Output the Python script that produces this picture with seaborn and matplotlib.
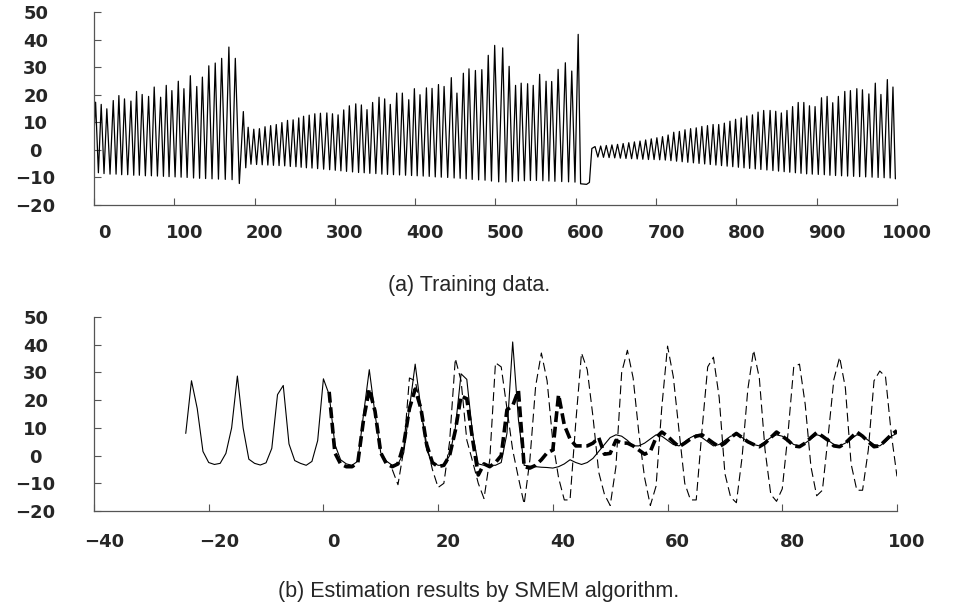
import numpy as np
import pandas as pd
import matplotlib
matplotlib.use("Agg")
import matplotlib.pyplot as plt
import matplotlib.transforms as mtransforms
import seaborn as sns

# (a) Training data -- peak x/y per cycle and the trough that follows each peak
seg1_peak_x = [2, 9, 16, 24, 31, 38, 46, 53, 60, 68, 75, 83, 90, 97, 105, 112, 120, 128, 135, 143, 151, 159, 168, 176]
seg1_peak_y = [17.3, 16.5, 14.9, 17.9, 19.7, 18.5, 17.7, 21.2, 20.1, 19.4, 22.8, 19.1, 23.4, 21.5, 24.9, 22.2,
               26.9, 23.0, 26.4, 30.5, 31.5, 33.2, 37.3, 33.2]
seg1_trough_y = [-8.3, -8.6, -8.8, -8.8, -9.0, -9.0, -9.2, -9.2, -9.4, -9.4, -9.5, -9.6, -9.7, -9.8, -9.9, -10.0,
                 -10.2, -10.3, -10.4, -10.5, -10.6, -10.7, -10.8, -12.2]

seg2_peak_x = [186, 192, 199, 206, 213, 220, 227, 234, 241, 248, 255, 261, 268, 275, 282, 290, 297, 304, 311, 318,
               326, 333, 340, 347, 355, 362, 369, 377, 384, 392, 399, 406, 414, 421, 429, 436, 445, 452, 460, 467,
               475, 483, 491, 499, 509, 517, 525, 532, 540, 547, 555, 563, 570, 578, 587, 595, 603]
seg2_peak_y = [13.9, 8.2, 7.5, 7.7, 8.4, 8.8, 9.2, 9.9, 10.7, 10.9, 11.6, 12.2, 12.6, 13.1, 13.3, 13.4, 13.1, 12.7,
               14.5, 16.0, 16.7, 16.3, 14.6, 17.2, 19.1, 18.5, 16.5, 20.6, 20.6, 18.2, 22.2, 20.0, 22.5, 22.3, 23.7,
               23.0, 26.2, 20.6, 27.8, 29.4, 28.8, 29.1, 34.3, 37.9, 37.0, 30.3, 23.4, 24.2, 24.0, 23.4, 27.4, 24.9,
               24.8, 29.2, 31.6, 28.6, 41.9]
seg2_trough_y = [-6.5, -5.2, -5.3, -5.4, -5.5, -5.6, -5.7, -5.8, -6.0, -6.1,
                 -6.3, -6.5, -6.6, -6.8, -7.0, -7.2, -7.4, -7.6, -7.8, -8.0,
                 -8.2, -8.3, -8.5, -8.6, -8.8, -8.9, -9.0, -9.1, -9.2, -9.3,
                 -9.4, -9.5, -9.6, -9.8, -9.9, -10.0, -10.2, -10.3, -10.5, -10.7,
                 -10.9, -11.0, -11.3, -11.6, -11.7, -11.5, -11.3, -11.2, -11.1, -11.1,
                 -11.2, -11.3, -11.4, -11.5, -11.6, -11.7, -12.5]

seg3_peak_x = [624, 631, 638, 645, 652, 659, 666, 673, 680, 687, 694, 701, 708, 715, 722, 729, 736, 743, 750, 757,
               764, 771, 778, 785, 792, 799, 806, 813, 820, 827, 834, 842, 849, 856, 863, 870, 877, 884, 891, 898,
               906, 913, 920, 927, 935, 942, 950, 957, 965, 973, 980, 988, 995]
seg3_peak_y = [1.2, 1.4, 1.6, 1.8, 2.0, 2.3, 2.6, 2.9, 3.2, 3.6, 4.0, 4.4,
               4.8, 5.4, 6.4, 6.7, 7.3, 7.7, 8.0, 8.5, 8.8, 9.2, 9.2, 9.7, 10.4, 11.1, 11.6, 12.3, 12.7, 13.7,
               14.3, 14.3, 14.0, 13.4, 14.3, 15.7, 17.2, 17.2, 16.0, 15.7, 18.9, 19.4, 17.1, 19.4, 21.2, 21.5,
               22.2, 21.8, 20.3, 24.2, 20.1, 25.5, 22.8]
seg3_trough_y = [-2.6, -2.7, -2.8, -2.9, -3.0, -3.1, -3.2, -3.3, -3.4, -3.5, -3.5, -3.6,
                 -3.7, -3.9, -4.1, -4.3, -4.5, -4.7, -4.9, -5.1, -5.3, -5.5, -5.7, -5.9, -6.1, -6.3,
                 -6.5, -6.7, -6.9, -7.1, -7.3, -7.5, -7.7, -7.9, -8.1, -8.3, -8.5, -8.7, -8.8, -8.9,
                 -9.0, -9.2, -9.3, -9.4, -9.5, -9.6, -9.7, -9.8, -9.9, -10.0, -10.1, -10.2, -10.5]

train_start = (0, 5.8)
train_end_x = 998
# the long flat dip between the 2nd and 3rd regimes
gap_t = [606, 617, 620]
gap_v = [-12.3, -11.8, 0.5]

# (b) Estimation results -- values at integer steps
true_x0 = -24
true_y = [8, 27, 17, 1.5, -2.5, -3.2, -2.8, 0.8, 10, 28.7, 10, -1.3, -2.8, -3.4, -2.6, 2.6, 22, 25.3, 4.2, -1.8,
          -2.8, -3.5, -2.1, 5.4,
          27.7, 22, 4, -1.5, -3, -3.5, -2, 15, 31, 15, 1, -2, -3.5, -3, 1, 17, 33, 17, 2, -2.5, -3.5, -3.5, 0, 10,
          29.5, 27.5, 8, -3, -3.5, -3.5, -3.5, -2.5, 8, 41, 13, -3.5, -3.8, -4, -4.2, -4.3, -4.5, -4, -3, -1.5,
          -2.5, -3.2, -2.5, -1, 1.5, 4, 6.5, 7.5,
          7, 5.5, 3.5, 3.5, 4.5, 6, 7.5, 7, 5.5, 4, 3.5, 5, 6.5, 7.5, 6.5, 5, 3.5, 4, 5.5, 7, 7.5, 6.5, 5, 4, 3.5,
          5, 6.5, 7.5, 7, 5.5, 4, 3.5, 4.5, 6, 7.5, 7, 5.5, 4, 3.5, 4.5, 6, 7.5, 7, 5.5, 4, 3.5, 5, 7, 8]

smem_x0 = 1
smem_y = [23, 1, -3, -4, -4, -2.5, 13, 24, 16, 1, -3, -4, -3, 4, 17, 24, 17, 4, -2.5, -4, -3.5, 0, 9, 21.5, 20.5,
          6, -7, -3, -4, -2.5, 0, 16.5, 18, 23.5, -4, -4.5, -3.5, -1.5, 1, 2, 22, 11, 6, 3.5, 3.5, 3.5, 4.5, 6.5,
          0.5, 0.8, 5.5, 4.5, 4.5, 3.5, 2, 0.5, 1.5, 6.5, 8.5, 7, 5, 3.2, 4.5, 6, 7, 7.5, 6, 4.5, 3.2, 4.5, 6.5,
          8, 6.5, 5, 4, 3.2, 4.5, 6.5, 8.5, 7, 5.5, 3.5, 3.2, 4.5, 6.5, 8.3, 7, 5.5, 3.5, 3.2, 4.5, 6.5, 8.5, 7,
          5, 3.2, 3.5, 5.5, 7.5, 9]

other_x0 = 12
other_y = [-5, -10.5, 2, 28, 27, 17, 4, -5, -11.5, -10, 5, 35, 27, 5.6, -2, -10, -15.5, -1.5, 33.5, 32, 17, 2, -8,
           -17.5, -1.5, 25, 37, 27, 5, -8, -16, -16, 12, 37, 31, 14, -6, -14, -18, -4, 30, 38, 28, 8, -8, -18, -11,
           17.5, 39.5, 28.5, 9, -10, -16, -16, 9, 32, 35.5, 21, -6.5, -15, -17, -0.5, 24, 38, 28, 2, -14, -16.5,
           -12, 8, 32, 33, 18.5, -4, -14.5, -12.5, 7, 27.5, 35.5, 24.5, -3, -12.5, -12.5, 2, 27, 30.5, 28.5, 8,
           -7.5]

# assemble the training series as peak / trough pairs
peak_x = seg1_peak_x + seg2_peak_x + seg3_peak_x
peak_y = seg1_peak_y + seg2_peak_y + seg3_peak_y
trough_y = seg1_trough_y + seg2_trough_y + seg3_trough_y
assert len(peak_x) == len(peak_y) == len(trough_y)
trough_x = [(a + b) / 2 for a, b in zip(peak_x[:-1], peak_x[1:])] + [train_end_x]
tx, ty = [train_start[0]] + gap_t, [train_start[1]] + gap_v
for a, b, c, d in zip(peak_x, peak_y, trough_x, trough_y):
    tx += [a, c]
    ty += [b, d]
train = pd.DataFrame({"t": tx, "v": ty}).sort_values("t")

true_df = pd.DataFrame({"t": np.arange(true_x0, true_x0 + len(true_y)), "v": true_y})
smem_df = pd.DataFrame({"t": np.arange(smem_x0, smem_x0 + len(smem_y)), "v": smem_y})
other_df = pd.DataFrame({"t": np.arange(other_x0, other_x0 + len(other_y)), "v": other_y})

sns.set_style("ticks")
plt.rcParams['font.family'] = ['DejaVu Sans']

fig = plt.figure(figsize=(9.58, 6.08), dpi=100)
ax1 = fig.add_axes([0.0981, 0.6628, 0.8382, 0.3174])
ax2 = fig.add_axes([0.0981, 0.1595, 0.8382, 0.3191])

sns.lineplot(data=train, x="t", y="v", ax=ax1, color="black", lw=0.9, estimator=None, sort=False)

sns.lineplot(data=true_df, x="t", y="v", ax=ax2, color="black", lw=0.8, estimator=None, sort=False)
sns.lineplot(data=other_df, x="t", y="v", ax=ax2, color="black", lw=0.8, estimator=None, sort=False,
             linestyle=(0, (8, 4)))
sns.lineplot(data=smem_df, x="t", y="v", ax=ax2, color="black", lw=2.6, estimator=None, sort=False,
             linestyle=(0, (3, 1.3)))


def style_axis(ax, xlim, xticks, xpad):
    ax.set_xlim(*xlim)
    ax.set_ylim(-20, 50)
    ax.set_xticks(xticks)
    ax.set_yticks(range(-20, 51, 10))
    ax.set_xlabel("")
    ax.set_ylabel("")
    for s in ["top", "right"]:
        ax.spines[s].set_visible(False)
    for s in ["left", "bottom"]:
        ax.spines[s].set_color("#555555")
        ax.spines[s].set_linewidth(0.9)
    ax.tick_params(axis="both", direction="in", length=5, width=0.8, color="#555555",
                   labelsize=13)
    ax.tick_params(axis="y", pad=42)
    ax.tick_params(axis="x", pad=xpad)
    offset = mtransforms.ScaledTranslation(0.10, 0, fig.dpi_scale_trans)
    for lab in ax.get_xticklabels():
        lab.set_fontweight("bold")
        lab.set_transform(lab.get_transform() + offset)
    for lab in ax.get_yticklabels():
        lab.set_fontweight("bold")
        lab.set_ha("center")


style_axis(ax1, (0, 1000), range(0, 1001, 100), 14)
style_axis(ax2, (-40, 100), range(-40, 101, 20), 16)

fig.text(469 / 958, 1 - 285 / 608, "(a) Training data.", ha="center", va="center",
         fontsize=15.5, family="Liberation Sans")
fig.text(479 / 958, 1 - 591 / 608, "(b) Estimation results by SMEM algorithm.", ha="center", va="center",
         fontsize=15.5, family="Liberation Sans")

fig.savefig("out.png", dpi=100)
